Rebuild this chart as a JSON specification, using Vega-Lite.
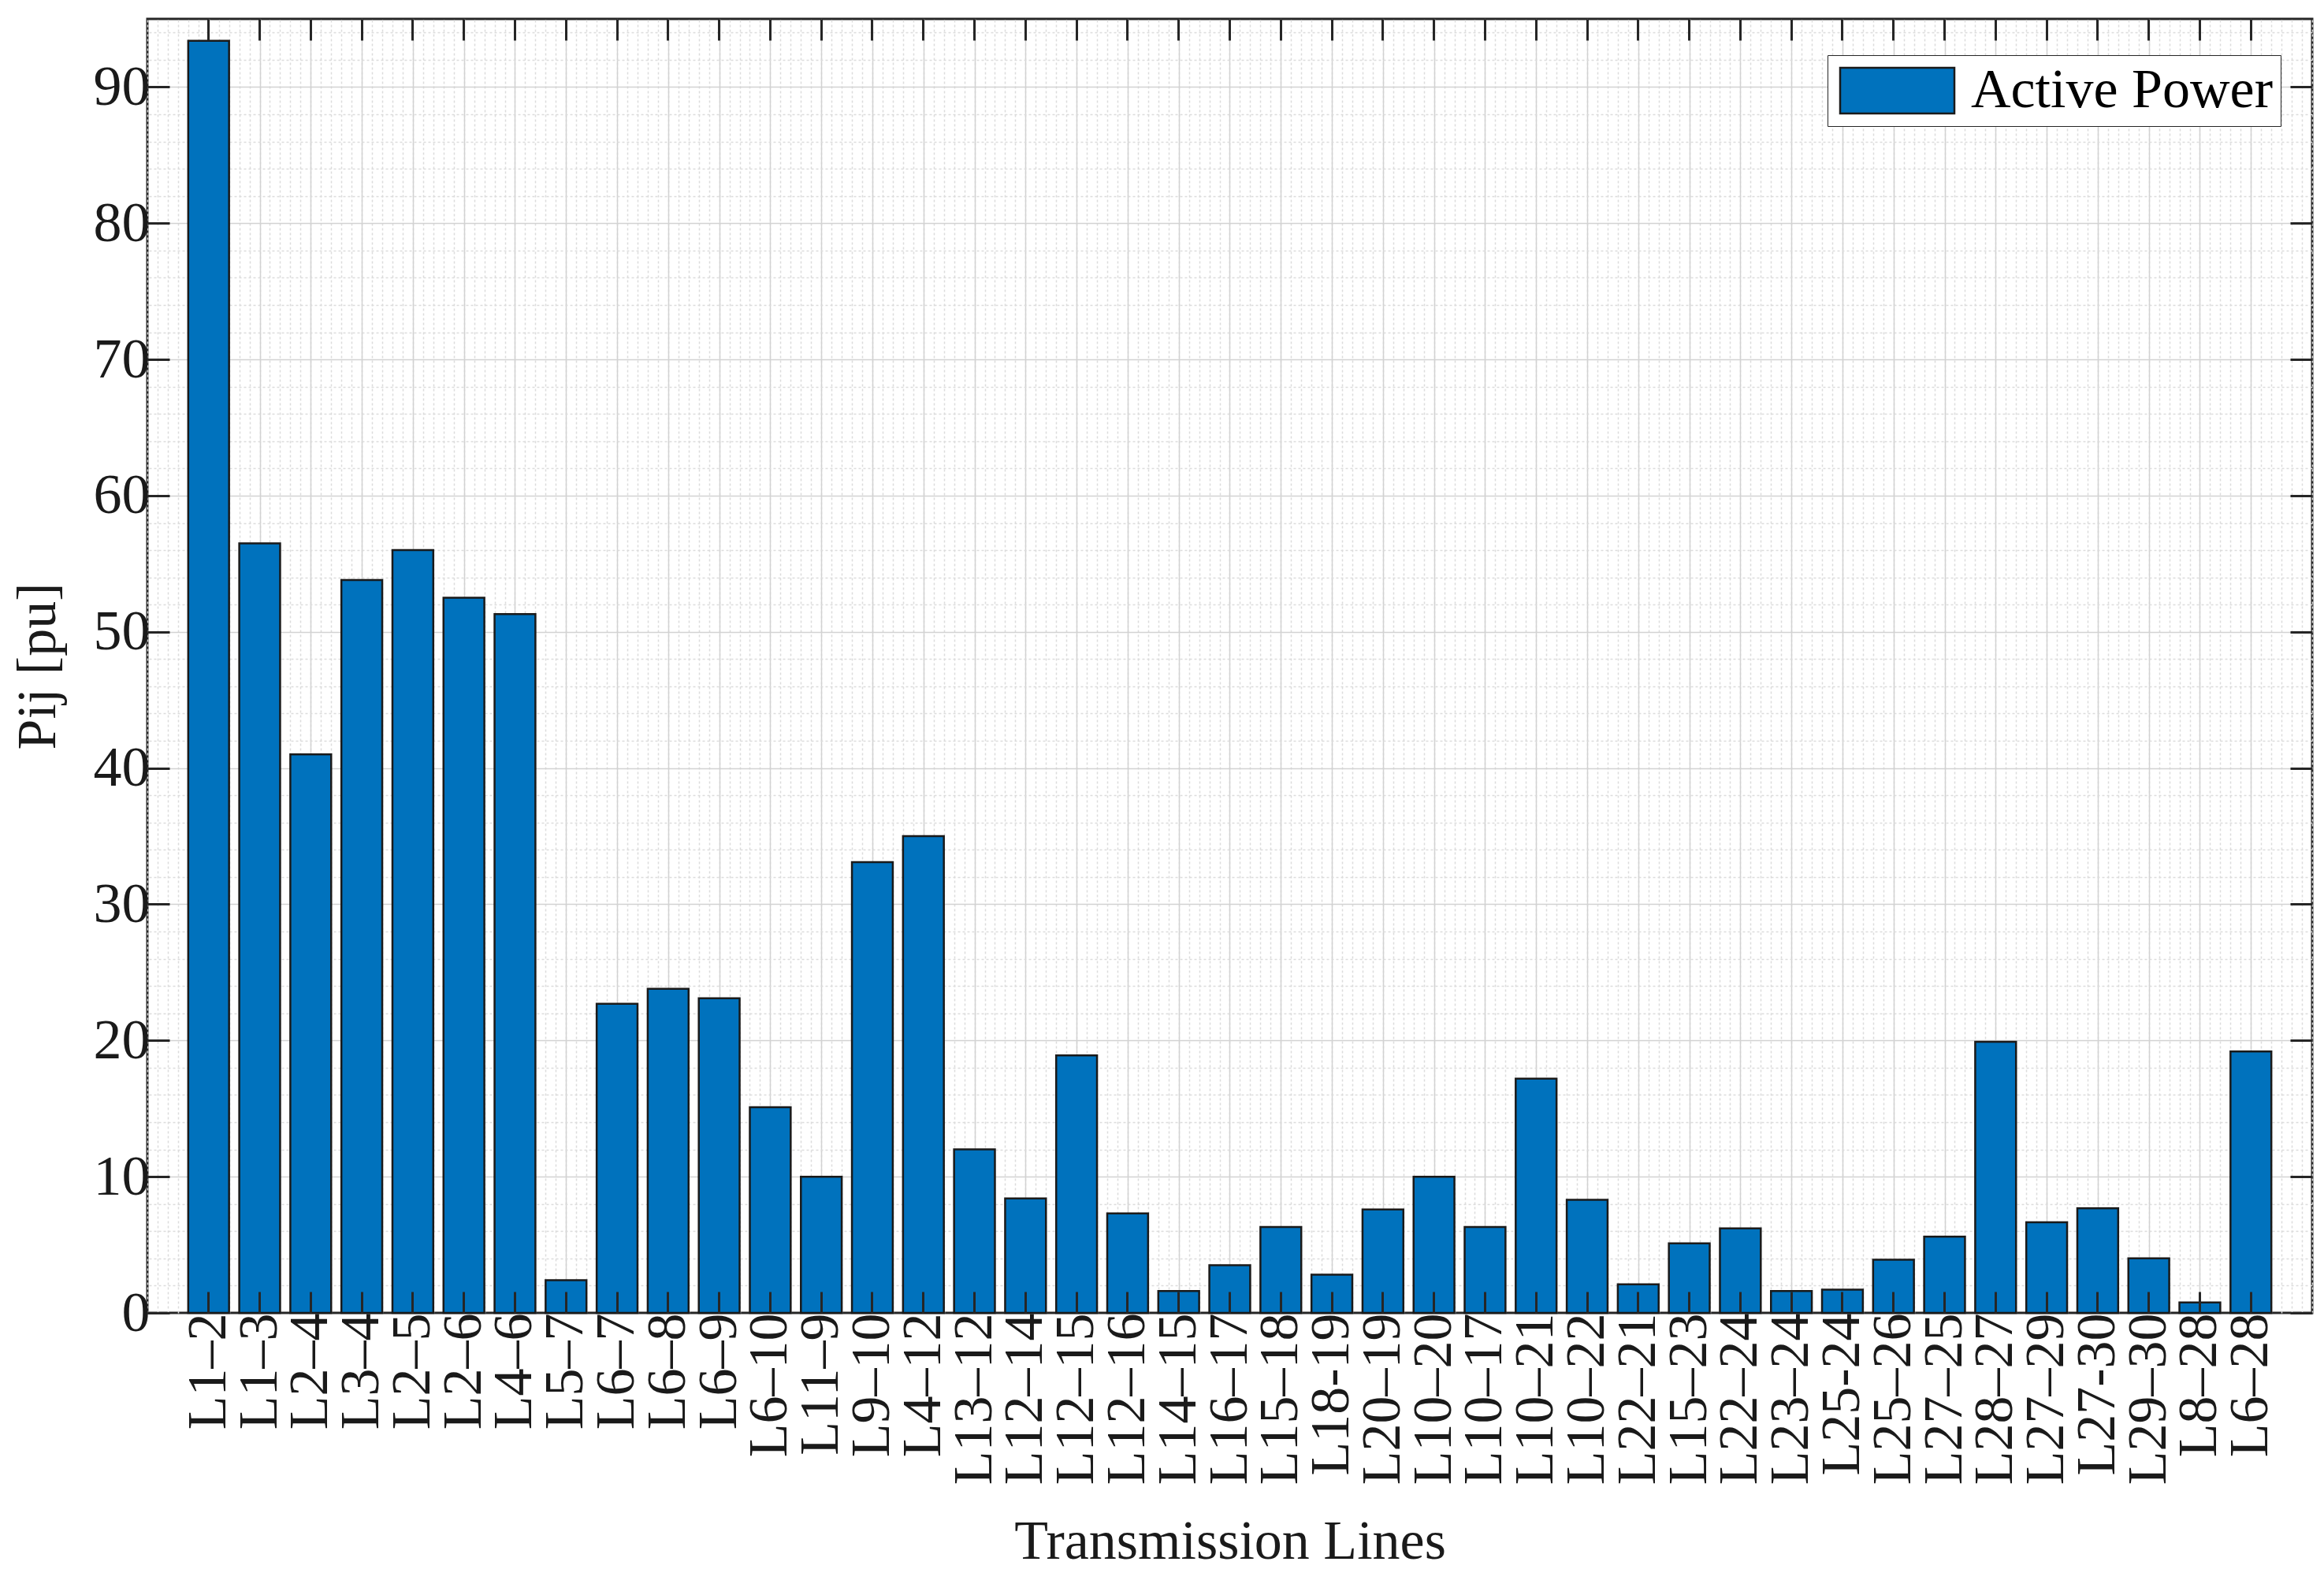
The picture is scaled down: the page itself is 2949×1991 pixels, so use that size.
{
  "$schema": "https://vega.github.io/schema/vega-lite/v6.json",
  "width": 2747,
  "height": 1642,
  "autosize": {"type": "none"},
  "padding": {"left": 187, "top": 24, "right": 15, "bottom": 325},
  "background": "white",
  "config": {
    "view": {"stroke": "#262626", "strokeWidth": 3},
    "font": "Liberation Serif"
  },
  "data": {
    "values": [
      {"line": "L1–2", "pij": 93.4},
      {"line": "L1–3", "pij": 56.5},
      {"line": "L2–4", "pij": 41.0},
      {"line": "L3–4", "pij": 53.8},
      {"line": "L2–5", "pij": 56.0},
      {"line": "L2–6", "pij": 52.5},
      {"line": "L4–6", "pij": 51.3},
      {"line": "L5–7", "pij": 2.4},
      {"line": "L6–7", "pij": 22.7},
      {"line": "L6–8", "pij": 23.8},
      {"line": "L6–9", "pij": 23.1},
      {"line": "L6–10", "pij": 15.1},
      {"line": "L11–9", "pij": 10.0},
      {"line": "L9–10", "pij": 33.1},
      {"line": "L4–12", "pij": 35.0},
      {"line": "L13–12", "pij": 12.0},
      {"line": "L12–14", "pij": 8.4},
      {"line": "L12–15", "pij": 18.9},
      {"line": "L12–16", "pij": 7.3},
      {"line": "L14–15", "pij": 1.6},
      {"line": "L16–17", "pij": 3.5},
      {"line": "L15–18", "pij": 6.3},
      {"line": "L18-19", "pij": 2.8},
      {"line": "L20–19", "pij": 7.6},
      {"line": "L10–20", "pij": 10.0},
      {"line": "L10–17", "pij": 6.3},
      {"line": "L10–21", "pij": 17.2},
      {"line": "L10–22", "pij": 8.3},
      {"line": "L22–21", "pij": 2.1},
      {"line": "L15–23", "pij": 5.1},
      {"line": "L22–24", "pij": 6.2},
      {"line": "L23–24", "pij": 1.6},
      {"line": "L25-24", "pij": 1.7},
      {"line": "L25–26", "pij": 3.9},
      {"line": "L27–25", "pij": 5.6},
      {"line": "L28–27", "pij": 19.9},
      {"line": "L27–29", "pij": 6.65},
      {"line": "L27-30", "pij": 7.68},
      {"line": "L29–30", "pij": 4.0},
      {"line": "L8–28", "pij": 0.77},
      {"line": "L6–28", "pij": 19.2}
    ]
  },
  "layer": [
    {
      "mark": {"type": "point", "opacity": 0},
      "encoding": {
        "x": {
          "datum": 1, "type": "quantitative",
          "scale": {"domain": [-0.2, 42.2], "nice": false, "zero": false},
          "axis": {"orient": "top", "grid": true, "gridColor": "#dcdcdc", "gridDash": [3, 3], "gridWidth": 1.5,
                   "tickCount": 212, "ticks": false, "labels": false, "domain": false, "title": null, "zindex": 0}
        },
        "y": {
          "datum": 1, "type": "quantitative",
          "scale": {"domain": [0, 95], "nice": false},
          "axis": {"orient": "right", "grid": true, "gridColor": "#dcdcdc", "gridDash": [3, 3], "gridWidth": 1.5,
                   "values": [2,4,6,8,12,14,16,18,22,24,26,28,32,34,36,38,42,44,46,48,52,54,56,58,62,64,66,68,72,74,76,78,82,84,86,88,92,94],
                   "ticks": false, "labels": false, "domain": false, "title": null, "zindex": 0}
        }
      }
    },
    {
      "mark": {"type": "point", "opacity": 0},
      "encoding": {
        "x": {
          "datum": 1, "type": "quantitative",
          "scale": {"domain": [-0.2, 42.2], "nice": false, "zero": false},
          "axis": {"orient": "top", "grid": true, "gridColor": "#d2d2d2", "gridWidth": 1.5,
                   "values": [1,2,3,4,5,6,7,8,9,10,11,12,13,14,15,16,17,18,19,20,21,22,23,24,25,26,27,28,29,30,31,32,33,34,35,36,37,38,39,40,41],
                   "ticks": false, "labels": false, "domain": false, "title": null, "zindex": 0}
        },
        "y": {
          "datum": 1, "type": "quantitative",
          "scale": {"domain": [0, 95], "nice": false},
          "axis": {"orient": "right", "grid": true, "gridColor": "#d2d2d2", "gridWidth": 1.5,
                   "values": [10,20,30,40,50,60,70,80,90],
                   "ticks": false, "labels": false, "domain": false, "title": null, "zindex": 0}
        }
      }
    },
    {
      "mark": {"type": "bar", "fill": "#0072BD", "stroke": "#1a1a1a", "strokeWidth": 2.5},
      "encoding": {
        "x": {
          "field": "line", "type": "nominal", "sort": null,
          "scale": {"paddingInner": 0.2, "paddingOuter": 0.8},
          "axis": {"orient": "bottom", "labelAngle": -90, "labelFontSize": 70, "labelFont": "Liberation Serif",
                   "labelColor": "#1a1a1a", "labelPadding": 27, "labelOverlap": false, "labelBound": false, "labelLimit": 0,
                   "tickSize": -27, "tickColor": "#262626", "tickWidth": 3, "bandPosition": 0.5,
                   "domain": false, "grid": false,
                   "title": "Transmission Lines", "titleFontSize": 70, "titleFont": "Liberation Serif",
                   "titleFontWeight": "normal", "titleColor": "#1a1a1a", "titlePadding": 56, "zindex": 1}
        },
        "y": {
          "field": "pij", "type": "quantitative",
          "scale": {"domain": [0, 95], "nice": false},
          "axis": {"orient": "left", "values": [0,10,20,30,40,50,60,70,80,90],
                   "labelFontSize": 72, "labelFont": "Liberation Serif", "labelColor": "#1a1a1a", "labelPadding": 25,
                   "tickSize": -28, "tickColor": "#262626", "tickWidth": 3,
                   "domain": false, "grid": false,
                   "title": "Pij [pu]", "titleFontSize": 70, "titleFont": "Liberation Serif",
                   "titleFontWeight": "normal", "titleColor": "#1a1a1a", "titlePadding": 34, "zindex": 1}
        },
        "color": {
          "datum": "Active Power", "type": "nominal",
          "scale": {"range": ["#0072BD"]},
          "legend": {"orient": "none", "legendX": 2132, "legendY": 46, "title": null,
                     "symbolType": "M-1,-1L4,-1L4,1L-1,1Z", "symbolSize": 3364,
                     "symbolStrokeColor": "#1a1a1a", "symbolStrokeWidth": 2.5, "symbolOpacity": 1,
                     "labelFontSize": 70, "labelFont": "Liberation Serif", "labelColor": "#000000", "labelLimit": 0,
                     "labelOffset": 102, "padding": 10, "strokeColor": "#262626", "fillColor": "white"}
        }
      }
    },
    {
      "mark": {"type": "bar", "opacity": 0},
      "encoding": {
        "x": {
          "field": "line", "type": "nominal", "sort": null,
          "scale": {"paddingInner": 0.2, "paddingOuter": 0.8},
          "axis": {"orient": "top", "labels": false, "tickSize": -27, "tickColor": "#262626", "tickWidth": 3,
                   "bandPosition": 0.5, "domain": false, "grid": false, "title": null, "zindex": 1}
        },
        "y": {
          "field": "pij", "type": "quantitative",
          "scale": {"domain": [0, 95], "nice": false},
          "axis": {"orient": "right", "values": [0,10,20,30,40,50,60,70,80,90], "labels": false,
                   "tickSize": -28, "tickColor": "#262626", "tickWidth": 3,
                   "domain": false, "grid": false, "title": null, "zindex": 1}
        }
      }
    }
  ],
  "resolve": {
    "scale": {"x": "independent", "y": "independent", "color": "independent"},
    "axis": {"x": "independent", "y": "independent"}
  }
}
